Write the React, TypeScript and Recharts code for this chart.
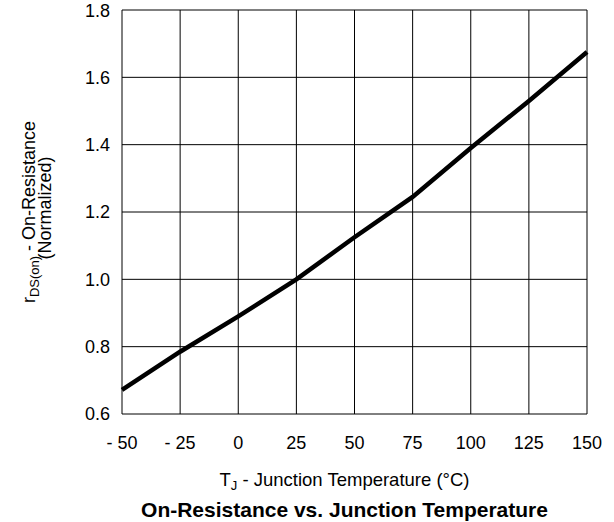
import React from 'react';
import { LineChart, Line, XAxis, YAxis, CartesianGrid, Label } from 'recharts';

// Junction temperature (°C)
const temperatures = [-50, -25, 0, 25, 50, 75, 100, 125, 150];
// Normalized on-resistance
const onResistance = [0.672, 0.785, 0.89, 1.0, 1.125, 1.245, 1.39, 1.53, 1.675];

const xTicks = [-50, -25, 0, 25, 50, 75, 100, 125, 150];
const yTicks = [0.6, 0.8, 1.0, 1.2, 1.4, 1.6, 1.8];

const data = temperatures.map((t, i) => ({ t, r: onResistance[i] }));

const FONT = '"Liberation Sans", Arial, Helvetica, sans-serif';

const YTitle = ({ viewBox }: any) => {
  const cy = viewBox.y + viewBox.height / 2;
  return (
    <g fontFamily={FONT} fontSize={18} fill="#000">
      <text transform={`translate(35, ${cy}) rotate(-90)`} textAnchor="middle">
        r<tspan fontSize={13} dy={4}>DS(on)</tspan>
        <tspan dy={-4}> - On-Resistance</tspan>
      </text>
      <text transform={`translate(51, ${cy - 4}) rotate(-90)`} textAnchor="middle">
        (Normalized)
      </text>
    </g>
  );
};

const XTitle = ({ viewBox }: any) => {
  const cx = viewBox.x + viewBox.width / 2 - 10;
  return (
    <g fontFamily={FONT} fill="#000">
      <text x={cx} y={486} textAnchor="middle" fontSize={18.5}>
        T<tspan fontSize={13} dy={4}>J</tspan>
        <tspan dy={-4}> - Junction Temperature (°C)</tspan>
      </text>
      <text x={cx} y={517} textAnchor="middle" fontSize={21} fontWeight="bold">
        On-Resistance vs. Junction Temperature
      </text>
    </g>
  );
};

export default function App() {
  return (
    <div style={{ position: 'absolute', left: 0, top: 0, width: 614, height: 522, background: '#fff' }}>
      <LineChart
        width={614}
        height={522}
        data={data}
        margin={{ top: 10, right: 27, bottom: 78, left: 62 }}
        style={{ fontFamily: FONT }}
      >
        <CartesianGrid
          stroke="#000"
          strokeWidth={1}
          horizontalValues={yTicks}
          verticalValues={xTicks}
        />
        <XAxis
          dataKey="t"
          type="number"
          domain={[-50, 150]}
          ticks={xTicks}
          axisLine={false}
          tickLine={false}
          tickMargin={16}
          height={30}
          fontSize={18}
          tick={{ fill: '#000', fontSize: 18, fontFamily: FONT }}
          tickFormatter={(v: number) => (v < 0 ? `- ${-v}` : `${v}`)}
        >
          <Label content={XTitle} />
        </XAxis>
        <YAxis
          type="number"
          domain={[0.6, 1.8]}
          ticks={yTicks}
          axisLine={false}
          tickLine={false}
          tickMargin={6}
          width={60}
          fontSize={18}
          tick={{ fill: '#000', fontSize: 18, fontFamily: FONT }}
          tickFormatter={(v: number) => v.toFixed(1)}
        >
          <Label content={YTitle} />
        </YAxis>
        <Line
          type="linear"
          dataKey="r"
          stroke="#000"
          strokeWidth={4.5}
          dot={false}
          isAnimationActive={false}
        />
      </LineChart>
    </div>
  );
}
